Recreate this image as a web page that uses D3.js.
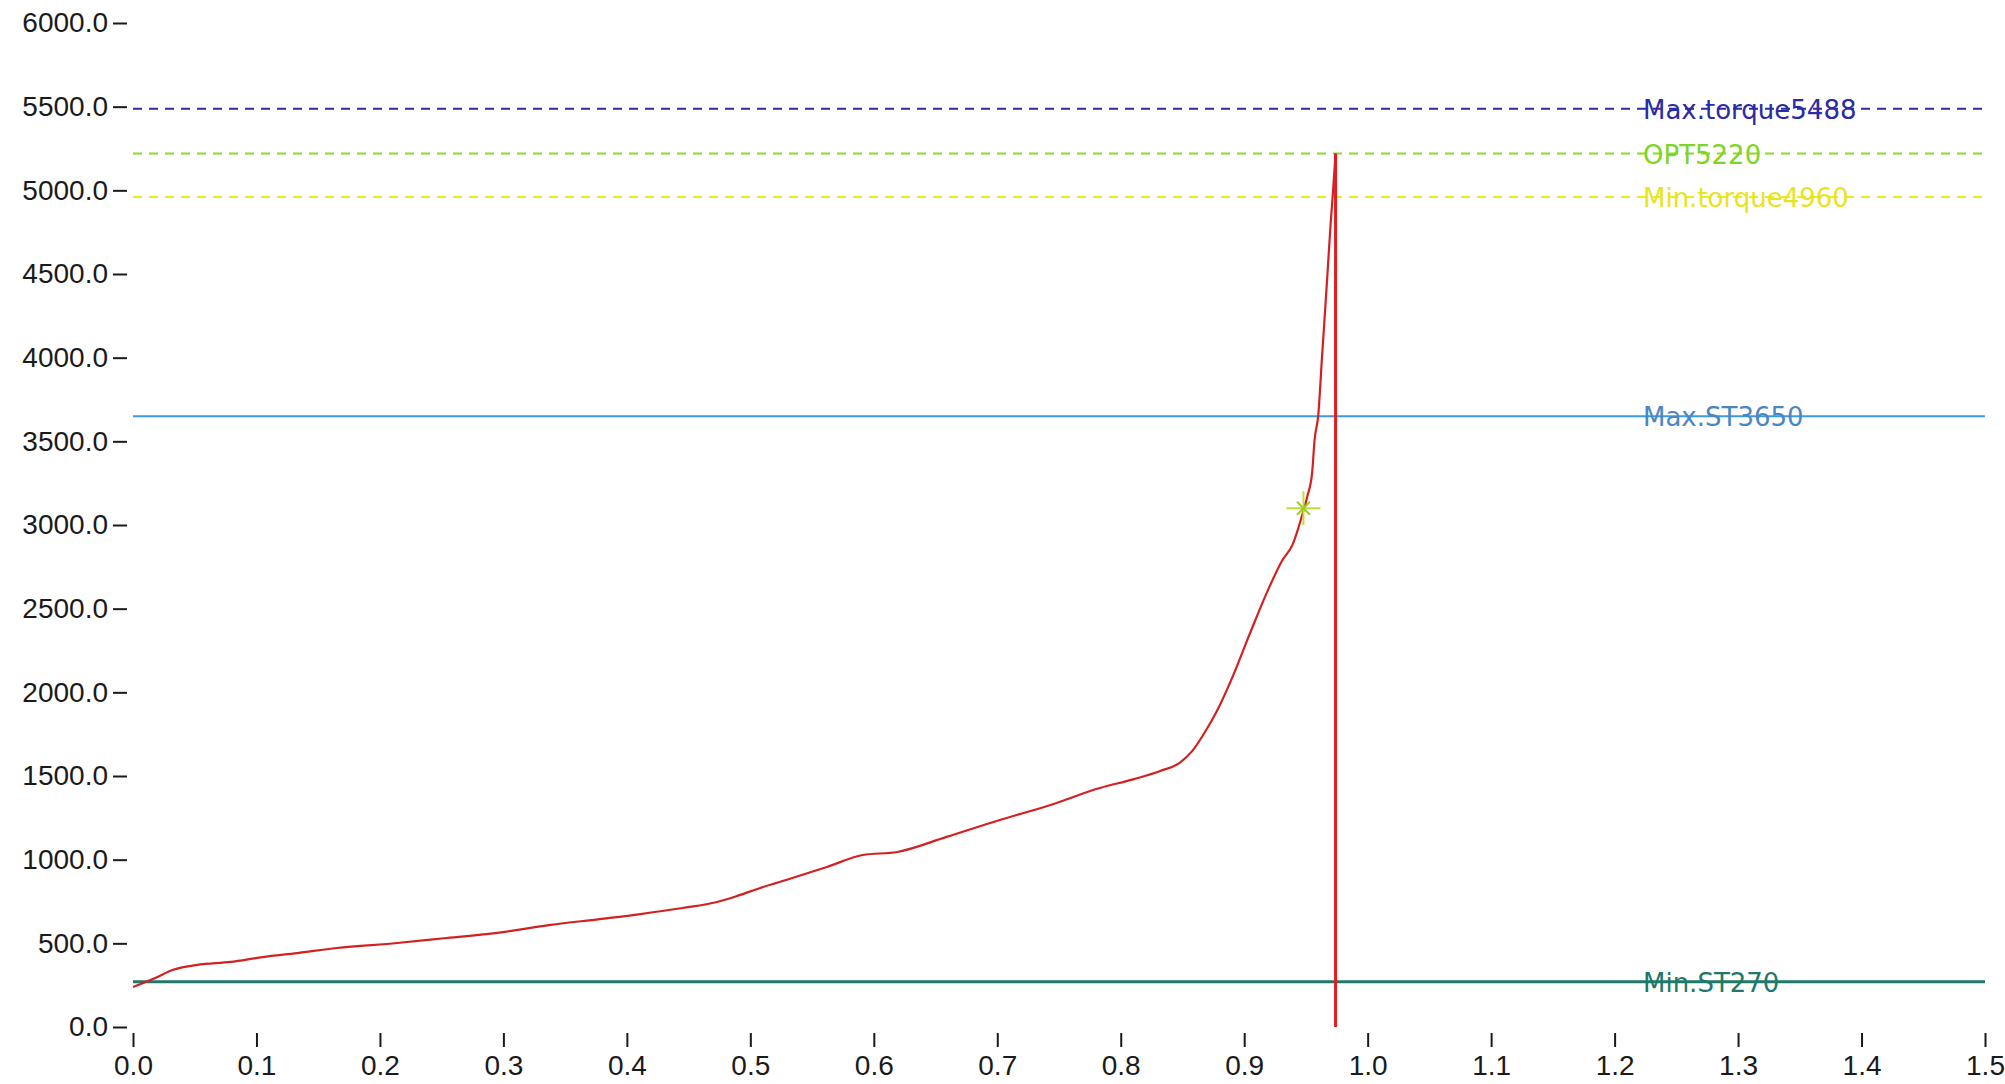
<!DOCTYPE html>
<html>
<head>
<meta charset="utf-8">
<script src="https://cdn.jsdelivr.net/npm/d3@7"></script>
<style>
  body { margin: 0; background: #fff; }
  svg { display: block; }
  .tick text { font-family: "Liberation Sans", Arial, sans-serif; fill: #1a1a1a; }
</style>
</head>
<body>
<div id="chart"></div>
<script>
var width = 2005;
var height = 1084;

// torque curve
var position = [0.0, 0.018, 0.032, 0.052, 0.079, 0.105, 0.133, 0.165, 0.214, 0.254,
  0.295, 0.338, 0.378, 0.411, 0.445, 0.473, 0.490, 0.508, 0.534, 0.562, 0.591,
  0.619, 0.659, 0.702, 0.743, 0.783, 0.810, 0.832, 0.848, 0.858, 0.868,
  0.878, 0.891, 0.904, 0.918, 0.931, 0.939, 0.947, 0.951, 0.955, 0.957,
  0.960, 0.963, 0.967, 0.970, 0.972, 0.974];
var torque = [239, 293, 341, 371, 389, 418, 442, 472, 502, 532,
  562, 610, 645, 675, 711, 747, 785, 831, 890, 956, 1028,
  1046, 1136, 1237, 1327, 1428, 1480, 1530, 1580, 1650, 1760,
  1890, 2100, 2340, 2590, 2791, 2880, 3060, 3168, 3311, 3508,
  3658, 4000, 4450, 4800, 5000, 5220];

// limit lines
var limitNames = ["Max.torque", "OPT", "Min.torque", "Max.ST", "Min.ST"];
var limitValues = [5488, 5220, 4960, 3650, 270];

// marker and stop line
var markerPos = 0.948;
var markerTorque = 3100;
var stopPos = 0.974;
var stopTorque = 5220;

// axis ticks
var xTicks = [0, 0.1, 0.2, 0.3, 0.4, 0.5, 0.6, 0.7, 0.8, 0.9, 1.0, 1.1, 1.2, 1.3, 1.4, 1.5];
var yTicks = [0, 500, 1000, 1500, 2000, 2500, 3000, 3500, 4000, 4500, 5000, 5500, 6000];

var limitStyle = {
  "Max.torque": { color: "#2b2ba6", text: "#2b2ba6", dash: "9,7", w: 2 },
  "OPT": { color: "#86dc24", text: "#7fd424", dash: "9,7", w: 2 },
  "Min.torque": { color: "#ecec1c", text: "#e8e41c", dash: "9,7", w: 2 },
  "Max.ST": { color: "#3b9be0", text: "#4a86c4", dash: null, w: 2 },
  "Min.ST": { color: "#1f7868", text: "#1f7868", dash: null, w: 3 }
};

var xScale = d3.scaleLinear().domain([0, 1.5]).range([133, 1985]);
var yScale = d3.scaleLinear().domain([0, 6000]).range([1027, 23]);

var svg = d3.select("#chart")
  .append("svg")
  .attr("width", width)
  .attr("height", height);

// axes
var yAxis = d3.axisLeft(yScale).tickValues(yTicks).tickFormat(d3.format(".1f"))
  .tickSize(14).tickPadding(5);
var xAxis = d3.axisBottom(xScale).tickValues(xTicks).tickFormat(d3.format(".1f"))
  .tickSize(14).tickPadding(8);

var gy = svg.append("g")
  .attr("transform", "translate(127,0)")
  .call(yAxis);
gy.select(".domain").remove();
gy.selectAll(".tick line").attr("stroke", "#1a1a1a").attr("stroke-width", 2);
gy.selectAll(".tick text").attr("font-size", "28px");

var gx = svg.append("g")
  .attr("transform", "translate(0,1033)")
  .call(xAxis);
gx.select(".domain").remove();
gx.selectAll(".tick line").attr("stroke", "#1a1a1a").attr("stroke-width", 2);
gx.selectAll(".tick text").attr("font-size", "28px");

// limit lines
var limits = limitNames.map(function (n, i) { return { name: n, value: limitValues[i] }; });

svg.append("g").selectAll("line")
  .data(limits)
  .enter()
  .append("line")
  .attr("x1", xScale(0))
  .attr("x2", xScale(1.5))
  .attr("y1", function (d) { return yScale(d.value); })
  .attr("y2", function (d) { return yScale(d.value); })
  .attr("stroke", function (d) { return limitStyle[d.name].color; })
  .attr("stroke-width", function (d) { return limitStyle[d.name].w; })
  .attr("stroke-dasharray", function (d) { return limitStyle[d.name].dash; });

// torque curve
var curveData = position.map(function (p, i) { return [p, torque[i]]; });
var line = d3.line()
  .x(function (d) { return xScale(d[0]); })
  .y(function (d) { return yScale(d[1]); })
  .curve(d3.curveMonotoneX);

svg.append("path")
  .datum(curveData)
  .attr("d", line)
  .attr("fill", "none")
  .attr("stroke", "#d42020")
  .attr("stroke-width", 2.2);

// stop line
svg.append("line")
  .attr("x1", xScale(stopPos))
  .attr("x2", xScale(stopPos))
  .attr("y1", yScale(stopTorque))
  .attr("y2", yScale(0))
  .attr("stroke", "#e01c1c")
  .attr("stroke-width", 3);

// marker
var m = svg.append("g")
  .attr("transform", "translate(" + xScale(markerPos) + "," + yScale(markerTorque) + ")");
m.append("path")
  .attr("d", d3.symbol(d3.symbolPlus, 380)())
  .attr("fill", "none")
  .attr("stroke", "#c4dc3a")
  .attr("stroke-width", 2);
m.append("path")
  .attr("d", d3.symbol(d3.symbolTimes, 110)())
  .attr("fill", "none")
  .attr("stroke", "#9ccc30")
  .attr("stroke-width", 2);

// labels on the limit lines
svg.append("g").selectAll("text")
  .data(limits)
  .enter()
  .append("text")
  .attr("x", xScale(1.223))
  .attr("y", function (d) { return yScale(d.value) + 10; })
  .attr("font-family", "DejaVu Sans, sans-serif")
  .attr("font-size", "26px")
  .attr("fill", function (d) { return limitStyle[d.name].text; })
  .text(function (d) { return d.name + d.value; });
</script>
</body>
</html>
